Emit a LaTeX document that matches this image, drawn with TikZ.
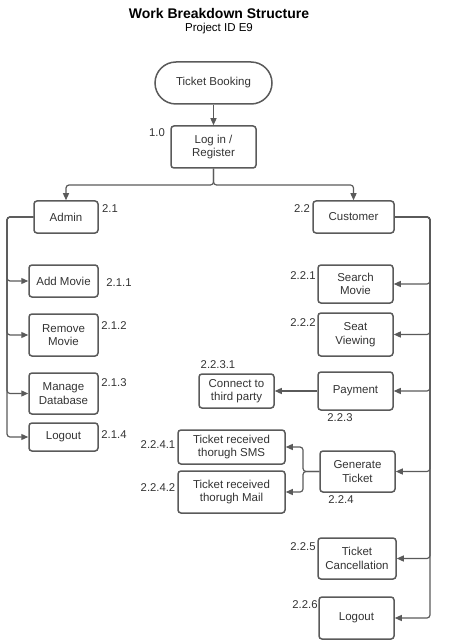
\documentclass[tikz,border=0pt]{standalone}
\usepackage{fontspec}
\setmainfont{Liberation Sans}
\usetikzlibrary{arrows.meta,positioning}
\definecolor{ln}{HTML}{5A5A5A}
\definecolor{tx}{HTML}{333333}
\tikzset{
  box/.style={draw=ln, line width=1.5pt, rounded corners=3pt, align=center, inner sep=1pt, text=tx, font=\fontsize{11.5}{13.5}\selectfont},
  lbl/.style={text=tx, font=\fontsize{11.3}{13}\selectfont, inner sep=0pt},
  conn/.style={draw=ln, line width=1.2pt, rounded corners=3pt},
  arr/.style={conn, -{Triangle[length=7pt,width=6pt]}},
}
\begin{document}
\begin{tikzpicture}[x=1pt,y=-1pt]
\useasboundingbox (0,0) rectangle (452,644);
\node[text=black, font=\bfseries\fontsize{14}{16}\selectfont] (title) at (219,13) {Work Breakdown Structure};
\node[text=black, font=\fontsize{11.5}{13}\selectfont] (sub) at (219,29) {Project ID E9};

\node[box, rounded corners=21pt, minimum width=117pt, minimum height=42pt] (tb) at (213.5,83) {Ticket Booking};
\node[box, minimum width=85pt, minimum height=42pt] (login) at (213.5,147) {Log in /\\Register};
\node[lbl] (l10) at (157,133) {1.0};

\node[box, minimum width=64pt, minimum height=32pt] (admin) at (66,217) {Admin};
\node[lbl] (l21) at (110,209) {2.1};
\node[box, minimum width=81pt, minimum height=32pt] (cust) at (353.5,217) {Customer};
\node[lbl] (l22) at (302,209) {2.2};

% admin children
\node[box, minimum width=69pt, minimum height=32pt] (add) at (63.5,281) {Add Movie};
\node[lbl] (l211) at (119,283) {2.1.1};
\node[box, minimum width=69pt, minimum height=42pt] (rem) at (63.5,335) {Remove\\Movie};
\node[lbl] (l212) at (114,326) {2.1.2};
\node[box, minimum width=69pt, minimum height=41pt] (man) at (63.5,393.5) {Manage\\Database};
\node[lbl] (l213) at (114,383) {2.1.3};
\node[box, minimum width=69pt, minimum height=28pt] (alog) at (63.5,437) {Logout};
\node[lbl] (l214) at (114,435) {2.1.4};

% customer children
\node[box, minimum width=75pt, minimum height=38pt] (search) at (355.5,284) {Search\\Movie};
\node[lbl] (l221) at (303,276) {2.2.1};
\node[box, minimum width=75pt, minimum height=43pt] (seat) at (355.5,334.5) {Seat\\Viewing};
\node[lbl] (l222) at (303,323) {2.2.2};
\node[box, minimum width=75pt, minimum height=38pt] (pay) at (355.5,391) {Payment};
\node[lbl] (l223) at (340,418) {2.2.3};
\node[box, minimum width=75pt, minimum height=34pt] (third) at (236.5,391) {Connect to\\third party};
\node[lbl] (l2231) at (218,365) {2.2.3.1};
\node[box, minimum width=75pt, minimum height=41pt] (gen) at (357.5,471.5) {Generate\\Ticket};
\node[lbl] (l224) at (341,500) {2.2.4};
\node[box, minimum width=107pt, minimum height=34pt] (sms) at (231.5,447) {Ticket received\\thorugh SMS};
\node[lbl] (l2241) at (158,445) {2.2.4.1};
\node[box, minimum width=107pt, minimum height=42pt] (mail) at (231.5,492) {Ticket received\\thorugh Mail};
\node[lbl] (l2242) at (158,488) {2.2.4.2};
\node[box, minimum width=78pt, minimum height=41pt] (canc) at (357,558.5) {Ticket\\Cancellation};
\node[lbl] (l225) at (303,547) {2.2.5};
\node[box, minimum width=75pt, minimum height=42pt] (clog) at (356.5,618) {Logout};
\node[lbl] (l226) at (305,605) {2.2.6};

% connectors
\coordinate (split) at (213.5,185);
\coordinate (atrunk) at (7,217);
\coordinate (ctrunk) at (430,217);
\coordinate (fork) at (303,471.5);

\draw[arr] (tb) -- (login);
\draw[arr] (login.south) -- (split) -| (admin.north);
\draw[arr] (login.south) -- (split) -| (cust.north);

\draw[arr] (admin.west) -- (atrunk) |- (add.west);
\draw[arr] (admin.west) -- (atrunk) |- (rem.west);
\draw[arr] (admin.west) -- (atrunk) |- (man.west);
\draw[arr] (admin.west) -- (atrunk) |- (alog.west);

\draw[arr] (cust.east) -- (ctrunk) |- (search.east);
\draw[arr] (cust.east) -- (ctrunk) |- (seat.east);
\draw[arr] (cust.east) -- (ctrunk) |- (pay.east);
\draw[arr] (cust.east) -- (ctrunk) |- (gen.east);
\draw[arr] (cust.east) -- (ctrunk) |- (canc.east);
\draw[arr] (cust.east) -- (ctrunk) |- (clog.east);

\draw[arr] (pay.west) -- (third.east);
\draw[arr] (gen.west) -- (fork) |- (sms.east);
\draw[arr] (gen.west) -- (fork) |- (mail.east);
\end{tikzpicture}
\end{document}
